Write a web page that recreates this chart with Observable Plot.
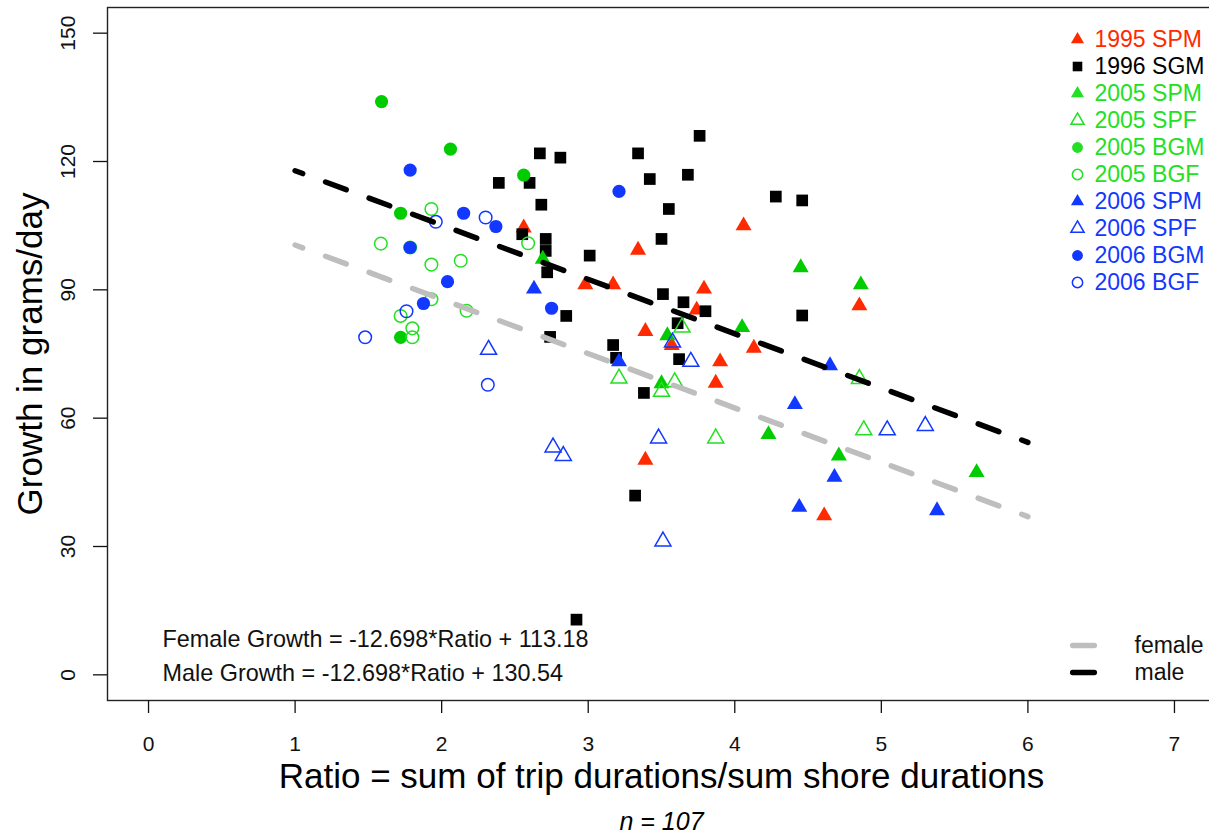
<!DOCTYPE html>
<html>
<head>
<meta charset="utf-8">
<script src="https://cdn.jsdelivr.net/npm/d3@7"></script>
<script src="https://cdn.jsdelivr.net/npm/@observablehq/plot@0.6"></script>
<style>
  html, body { margin: 0; padding: 0; background: #fff; overflow: hidden; }
  #wrap { position: relative; width: 1209px; height: 838px; overflow: hidden; background: #fff; }
  #wrap svg { max-width: none !important; }
  #leg1 { position: absolute; left: 1060px; top: 0px; }
  #leg2 { position: absolute; left: 1060px; top: 620px; }
</style>
</head>
<body>
<div id="wrap">
  <div id="main"></div>
  <div id="leg1"></div>
  <div id="leg2"></div>
</div>
<script>
// ---------------- data ----------------
const spm1995 = [[2.56,104.5],[3.34,99.3],[2.98,91.2],[3.17,91.2],[3.79,90.2],[3.74,85.3],[3.39,80.3],[4.13,76.4],
  [3.57,77.0],[3.90,73.2],[3.87,68.2],[3.39,50.2],[4.06,105.0],[4.85,86.3],[4.61,37.2]];
const sgm1996 = [[2.67,121.9],[2.81,120.9],[2.39,115.0],[2.60,115.0],[2.68,109.9],[2.71,101.9],[2.71,99.1],[2.72,94.1],
  [2.85,83.9],[2.55,103.0],[3.34,121.9],[3.76,126.0],[3.42,115.9],[3.68,116.9],[3.55,108.9],[4.28,111.8],[4.46,110.9],
  [3.50,101.9],[3.01,98.0],[3.51,89.0],[3.65,87.1],[3.80,85.0],[3.61,82.2],[3.17,77.1],[4.46,84.0],[2.74,79.0],
  [3.19,74.1],[3.62,73.8],[3.38,65.9],[3.32,41.9],[2.92,12.9]];
const spm2005 = [[2.69,97.2],[4.45,95.2],[4.86,91.2],[4.05,81.2],[3.54,79.3],[3.50,68.1],[4.23,56.2],[4.71,51.2],[5.65,47.3]];
const spf2005 = [[3.64,81.2],[3.21,69.3],[3.50,66.2],[3.59,68.4],[3.87,55.3],[4.85,69.2],[4.88,57.2]];
const bgm2005 = [[1.59,134.0],[2.06,122.9],[2.56,116.8],[1.72,107.9],[1.72,78.9]];
const bgf2005 = [[1.93,108.9],[2.59,100.9],[1.585,100.8],[1.785,99.9],[1.93,95.9],[2.13,96.8],[1.93,87.8],[2.17,85.1],
  [1.72,83.9],[1.80,81.0],[1.80,78.9]];
const spm2006 = [[2.63,90.2],[3.21,73.2],[4.41,63.2],[4.44,39.2],[4.65,72.3],[4.68,46.2],[5.38,38.4]];
const spf2006 = [[2.32,76.0],[2.76,53.2],[2.83,51.2],[3.575,77.7],[3.70,73.2],[3.48,55.3],[3.51,31.2],[5.04,57.2],[5.30,58.2]];
const bgm2006 = [[1.785,118.0],[2.15,107.9],[2.37,104.8],[1.785,99.9],[2.04,91.9],[1.876,86.8],[2.75,85.7],[3.21,113.0]];
const bgf2006 = [[1.96,105.9],[2.30,106.9],[1.76,85.0],[1.478,78.9],[2.315,67.8]];

const groupNames = ["1995 SPM","1996 SGM","2005 SPM","2005 SPF","2005 BGM","2005 BGF","2006 SPM","2006 SPF","2006 BGM","2006 BGF"];
const groupData = [spm1995, sgm1996, spm2005, spf2005, bgm2005, bgf2005, spm2006, spf2006, bgm2006, bgf2006];

const slope = -12.698;
const femaleIntercept = 113.18;
const maleIntercept = 130.54;
const fitRange = [1, 6];
const lineNames = ["female", "male"];

const xTicks = [0, 1, 2, 3, 4, 5, 6, 7];
const yTicks = [0, 30, 60, 90, 120, 150];

// ---------------- styles ----------------
const RED = "#ff2a00", BLACK = "#000000", GREEN = "#00cc00", GREEN_LT = "#22e022", BLUE = "#1238ff";
const groupStyle = [
  {symbol: "triangle", filled: true,  color: RED,   text: RED},
  {symbol: "square",   filled: true,  color: BLACK, text: BLACK},
  {symbol: "triangle", filled: true,  color: GREEN, text: GREEN_LT},
  {symbol: "triangle", filled: false, color: GREEN_LT, text: GREEN_LT},
  {symbol: "circle",   filled: true,  color: GREEN, text: GREEN_LT},
  {symbol: "circle",   filled: false, color: GREEN_LT, text: GREEN_LT},
  {symbol: "triangle", filled: true,  color: BLUE,  text: BLUE},
  {symbol: "triangle", filled: false, color: BLUE,  text: BLUE},
  {symbol: "circle",   filled: true,  color: BLUE,  text: BLUE},
  {symbol: "circle",   filled: false, color: BLUE,  text: BLUE}
];
function symR(s) {
  if (s.symbol === "triangle") return 5.95;
  if (s.symbol === "square") return 6.6;
  return s.filled ? 6.6 : 6.3;
}
const FONT = "'Liberation Sans', Arial, Helvetica, sans-serif";
const lineStyle = {female: "#bebebe", male: "#000000"};

const fitLine = (b) => fitRange.map(x => ({x, y: b + slope * x}));

// ---------------- main plot ----------------
const W = 1215, H = 838, ML = 107, MT = 7, MB = 138, MR = 0;

const pointMarks = groupData.map((data, i) => {
  const s = groupStyle[i];
  return Plot.dot(data, {
    x: d => d[0], y: d => d[1],
    symbol: s.symbol,
    r: symR(s),
    fill: s.filled ? s.color : "none",
    stroke: s.filled ? "none" : s.color,
    strokeWidth: 1.5
  });
});

const main = Plot.plot({
  width: W, height: H,
  marginLeft: ML, marginRight: MR, marginTop: MT, marginBottom: MB,
  style: {fontFamily: FONT, color: "#111", background: "white", overflow: "visible", maxWidth: "none"},
  x: {domain: [-0.28, 7.28], label: null},
  y: {domain: [-6, 156], label: null},
  marks: [
    ...pointMarks,
    Plot.line(fitLine(femaleIntercept), {x: "x", y: "y", stroke: lineStyle.female, strokeWidth: 5.5,
      strokeDasharray: "22,24.4", strokeDashoffset: 13.9, strokeLinecap: "round"}),
    Plot.line(fitLine(maleIntercept), {x: "x", y: "y", stroke: lineStyle.male, strokeWidth: 5.5,
      strokeDasharray: "22,24.4", strokeDashoffset: 13.9, strokeLinecap: "round"}),
    Plot.frame({stroke: "#222", strokeWidth: 1.4}),
    Plot.axisX(xTicks, {tickSize: 13, tickPadding: 23, fontSize: 21, label: null, strokeWidth: 1.3, tickFormat: d => String(d)}),
    Plot.axisY(yTicks, {tickSize: 14, label: null, strokeWidth: 1.3, tickFormat: () => ""}),
    Plot.text(yTicks, {y: d => d, text: d => String(d), frameAnchor: "left", dx: -39, rotate: -90,
      textAnchor: "middle", lineAnchor: "middle", fontSize: 21, fill: "#111"}),
    Plot.text(["Growth in grams/day"], {text: d => d, frameAnchor: "left", dx: -77, rotate: -90,
      textAnchor: "middle", lineAnchor: "middle", fontSize: 35, fill: "#000"}),
    Plot.text(["Ratio = sum of trip durations/sum shore durations"], {text: d => d, frameAnchor: "bottom", dy: 76,
      textAnchor: "middle", lineAnchor: "middle", fontSize: 35, fill: "#000"}),
    Plot.text(["n = 107"], {text: d => d, frameAnchor: "bottom", dy: 121,
      textAnchor: "middle", lineAnchor: "middle", fontSize: 25, fontStyle: "italic", fill: "#000"}),
    Plot.text([`Female Growth = ${slope}*Ratio + ${femaleIntercept}`], {text: d => d, frameAnchor: "bottom-left",
      dx: 55, dy: -61.4, textAnchor: "start", lineAnchor: "middle", fontSize: 23.4, fill: "#111"}),
    Plot.text([`Male Growth = ${slope}*Ratio + ${maleIntercept}`], {text: d => d, frameAnchor: "bottom-left",
      dx: 55, dy: -27.4, textAnchor: "start", lineAnchor: "middle", fontSize: 23.4, fill: "#111"})
  ]
});
document.getElementById("main").appendChild(main);

// ---------------- symbol legend ----------------
const legendRows = groupNames.map((name, i) => ({name, i}));
const leg1 = Plot.plot({
  width: 149, height: 300,
  marginLeft: 17, marginRight: 0, marginTop: 35, marginBottom: 15,
  style: {fontFamily: FONT, background: "transparent", overflow: "visible"},
  y: {type: "point", domain: groupNames, padding: 0, axis: null},
  marks: [
    ...legendRows.map(row => {
      const s = groupStyle[row.i];
      return Plot.dot([row], {
        y: "name", frameAnchor: "left",
        symbol: s.symbol, r: symR(s) * 0.82,
        fill: s.filled ? s.text : "none",
        stroke: s.filled ? "none" : s.text,
        strokeWidth: 1.5
      });
    }),
    ...legendRows.map(row => Plot.text([row], {
      y: "name", text: "name", frameAnchor: "left", dx: 17,
      textAnchor: "start", lineAnchor: "middle", fontSize: 23, fill: groupStyle[row.i].text
    }))
  ]
});
document.getElementById("leg1").appendChild(leg1);

// ---------------- line legend ----------------
const leg2 = Plot.plot({
  width: 149, height: 80,
  marginLeft: 12.7, marginRight: 0, marginTop: 25, marginBottom: 28,
  style: {fontFamily: FONT, background: "transparent", overflow: "visible"},
  y: {type: "point", domain: lineNames, padding: 0, axis: null},
  marks: [
    ...lineNames.map(n => Plot.ruleY([n], {y: d => d, insetRight: 114.7, stroke: lineStyle[n],
      strokeWidth: 5.5, strokeLinecap: "round"})),
    Plot.text(lineNames, {y: d => d, text: d => d, frameAnchor: "left", dx: 61.3,
      textAnchor: "start", lineAnchor: "middle", fontSize: 23, fill: "#111"})
  ]
});
document.getElementById("leg2").appendChild(leg2);
</script>
</body>
</html>
